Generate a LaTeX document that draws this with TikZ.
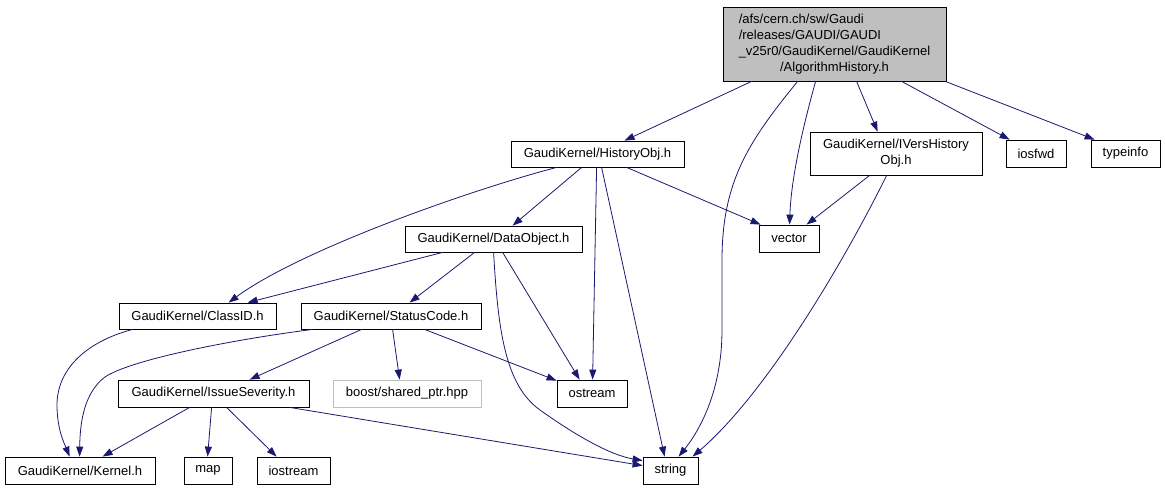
\documentclass[tikz,border=0pt]{standalone}
\usepackage{fontspec}
\setmainfont{Liberation Sans}
\usepackage{xcolor}
\usepackage{tikz}
\usetikzlibrary{arrows.meta,calc}
\definecolor{edge}{HTML}{191970}
\definecolor{grey75}{HTML}{BFBFBF}
\tikzset{
  box/.style={draw=black, line width=0.8pt, inner sep=0pt, minimum height=27pt,
    font=\fontsize{13}{16}\selectfont},
  root/.style={box, fill=grey75},
  ext/.style={box, draw=grey75},
  dep/.style={draw=edge, line width=0.8pt, -{Triangle[length=10pt,width=7pt]}},
}
\begin{document}
\begin{tikzpicture}[x=1pt,y=-1pt]
  \useasboundingbox (0,0) rectangle (1165,491);

  % files, one row per rank
  \node[root, minimum width=223pt, minimum height=74pt] (algo) at (834.5,44)
    {\begin{tabular}{@{}l@{}}/afs/cern.ch/sw/Gaudi\\/releases/GAUDI/GAUDI\\\_v25r0/GaudiKernel/GaudiKernel\\
     \multicolumn{1}{@{}c@{}}{/AlgorithmHistory.h}\end{tabular}};

  \node[box, minimum width=173pt, minimum height=26pt] (histobj) at (597.5,154) {GaudiKernel/HistoryObj.h};
  \node[box, minimum width=172pt, minimum height=43pt, align=center] (ivers) at (896,153.5)
    {GaudiKernel/IVersHistory\\Obj.h};
  \node[box, minimum width=60pt] (iosfwd) at (1036,153.5) {iosfwd};
  \node[box, minimum width=69pt] (typeinfo) at (1125.5,153.5) {typeinfo};

  \node[box, minimum width=177pt, minimum height=26pt] (dataobj) at (493.5,239) {GaudiKernel/DataObject.h};
  \node[box, minimum width=60pt] (vector) at (789,238.5) {vector};

  \node[box, minimum width=157pt, minimum height=26pt] (classid) at (197.5,316) {GaudiKernel/ClassID.h};
  \node[box, minimum width=180pt, minimum height=26pt] (status) at (391,316) {GaudiKernel/StatusCode.h};

  \node[box, minimum width=191pt] (severity) at (213.5,393.5) {GaudiKernel/IssueSeverity.h};
  \node[ext, minimum width=148pt] (sharedptr) at (407,393.5) {boost/shared\_ptr.hpp};
  \node[box, minimum width=70pt] (ostream) at (592,393.5) {ostream};

  \node[box, minimum width=150pt] (kernel) at (80,470.5) {GaudiKernel/Kernel.h};
  \node[box, minimum width=48pt] (map) at (208,470.5) {map};
  \node[box, minimum width=73pt] (iostream) at (293.5,470.5) {iostream};
  \node[box, minimum width=55pt] (string) at (670.5,470.5) {string};

  % includes of AlgorithmHistory.h
  \draw[dep] ([xshift=29pt]algo.south west) -- ([xshift=114pt]histobj.north west);
  \draw[dep] ([xshift=75pt]algo.south west) .. controls (750,140) and (722,180) .. (722,260)
    -- (722,330) .. controls (722,390) and (700,430) .. ([xshift=36pt]string.north west);
  \draw[dep] ([xshift=93pt]algo.south west) .. controls (802,130) and (791,180) .. ([xshift=31pt]vector.north west);
  \draw[dep] ([xshift=134pt]algo.south west) -- ([xshift=68pt]ivers.north west);
  \draw[dep] ([xshift=179pt]algo.south west) -- ([xshift=4pt]iosfwd.north west);
  \draw[dep] ([xshift=-1pt]algo.south east) -- ([xshift=4pt]typeinfo.north west);

  % HistoryObj.h
  \draw[dep] ([xshift=46pt]histobj.south west) .. controls (470,190) and (300,250) .. ([xshift=110pt]classid.north west);
  \draw[dep] ([xshift=71pt]histobj.south west) -- ([xshift=108pt]dataobj.north west);
  \draw[dep] ([xshift=86pt]histobj.south west) -- ([xshift=36pt]ostream.north west);
  \draw[dep] ([xshift=91pt]histobj.south west) -- ([xshift=22pt]string.north west);
  \draw[dep] ([xshift=116pt]histobj.south west) -- ([xshift=2pt]vector.north west);

  % IVersHistoryObj.h
  \draw[dep] ([xshift=60pt]ivers.south west) -- ([xshift=48pt]vector.north west);
  \draw[dep] ([xshift=77pt]ivers.south west) .. controls (850,250) and (770,390) .. ([xshift=50pt]string.north west);

  % DataObject.h
  \draw[dep] ([xshift=38pt]dataobj.south west) -- ([xshift=129pt]classid.north west);
  \draw[dep] ([xshift=70pt]dataobj.south west) -- ([xshift=109pt]status.north west);
  \draw[dep] ([xshift=98pt]dataobj.south west) -- ([xshift=23pt]ostream.north west);
  \draw[dep] ([xshift=89pt]dataobj.south west) .. controls (498,330) and (505,385) .. (540,410)
    .. controls (575,435) and (610,455) .. ([yshift=-4pt]string.north west);

  % ClassID.h and StatusCode.h
  \draw[dep] ([xshift=14pt]classid.south west) .. controls (85,342) and (57,370) .. (57,405)
    .. controls (57,430) and (65,445) .. ([xshift=65pt]kernel.north west);
  \draw[dep] ([xshift=12pt]status.south west) .. controls (230,340) and (130,360) .. (105,377)
    .. controls (85,392) and (80,420) .. ([xshift=75pt]kernel.north west);
  \draw[dep] ([xshift=61pt]status.south west) -- ([xshift=132pt]severity.north west);
  \draw[dep] ([xshift=92pt]status.south west) -- ([xshift=67pt]sharedptr.north west);
  \draw[dep] ([xshift=124pt]status.south west) -- ([yshift=-1pt]ostream.north west);

  % IssueSeverity.h
  \draw[dep] ([xshift=72pt]severity.south west) -- ([xshift=98pt]kernel.north west);
  \draw[dep] ([xshift=94pt]severity.south west) -- ([xshift=24pt]map.north west);
  \draw[dep] ([xshift=109pt]severity.south west) -- ([xshift=20pt]iostream.north west);
  \draw[dep] ([xshift=172pt]severity.south west) -- ([yshift=-9pt]string.north west);
\end{tikzpicture}
\end{document}
